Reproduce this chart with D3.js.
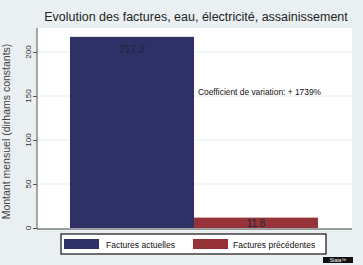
<!DOCTYPE html>
<html><head><meta charset="utf-8">
<script src="https://cdn.jsdelivr.net/npm/d3@7"></script>
<style>body{margin:0;background:#eaf0f1;}svg{display:block;font-family:"Liberation Sans",Arial,sans-serif;}</style>
</head><body>
<script>
const categories = ["Factures actuelles", "Factures précédentes"];
const values = [217.2, 11.8];
const labels = ["217.2", "11.8"];
const colors = ["#2e3066", "#963338"];
const yTicks = [0, 50, 100, 150, 200];
const title = "Evolution des factures, eau, électricité, assainissement";
const yTitle = "Montant mensuel (dirhams constants)";
const note = "Coefficient de variation: + 1739%";

const W = 363, H = 265;
const svg = d3.select("body").append("svg").attr("width", W).attr("height", H);
svg.append("rect").attr("width", W).attr("height", H).attr("fill", "#eaf0f1");

const plot = {l: 37, r: 352, t: 28, b: 229};
svg.append("rect").attr("x", plot.l).attr("y", plot.t).attr("width", plot.r - plot.l).attr("height", plot.b - plot.t).attr("fill", "#fff");

const y = d3.scaleLinear().domain([0, 200]).range([228, 52]);
const x = d3.scaleBand().domain(categories).range([70, 318]).padding(0);

// gridlines
svg.append("g").selectAll("line").data(yTicks.filter(d => d > 0)).join("line")
  .attr("x1", plot.l).attr("x2", plot.r).attr("y1", d => y(d)).attr("y2", d => y(d))
  .attr("stroke", "#e8eef0").attr("stroke-width", 1);

// bars
svg.append("g").selectAll("rect").data(values).join("rect")
  .attr("x", (d, i) => x(categories[i]))
  .attr("width", x.bandwidth())
  .attr("y", d => y(d))
  .attr("height", d => y(0) - y(d))
  .attr("fill", (d, i) => colors[i]);

// bar labels (inside, near top)
svg.append("g").selectAll("text").data(values).join("text")
  .attr("x", (d, i) => x(categories[i]) + x.bandwidth() / 2)
  .attr("y", d => y(d) + Math.min(16, (y(0) - y(d)) / 2 + 4))
  .attr("text-anchor", "middle")
  .attr("font-size", 10)
  .attr("fill", "#1a2a3a")
  .text((d, i) => labels[i]);

// y axis
const yAxis = d3.axisLeft(y).tickValues(yTicks).tickSize(4).tickFormat("");
const ga = svg.append("g").attr("transform", `translate(${plot.l},0)`).call(yAxis);
ga.select(".domain").attr("stroke", "#555").attr("d", `M0,${plot.t}V${plot.b}`);
ga.selectAll(".tick line").attr("stroke", "#555");
svg.append("g").selectAll("text").data(yTicks).join("text")
  .attr("transform", d => `translate(${plot.l - 6},${y(d)}) rotate(-90)`)
  .attr("text-anchor", "middle")
  .attr("font-size", 8).attr("fill", "#333")
  .text(d => d3.format("d")(d));

// x axis base line
svg.append("line").attr("x1", plot.l).attr("x2", plot.r).attr("y1", plot.b).attr("y2", plot.b)
  .attr("stroke", "#444").attr("stroke-width", 1.2);

// y title
svg.append("text").attr("transform", `translate(10,${(plot.t + plot.b) / 2 + 3}) rotate(-90)`)
  .attr("text-anchor", "middle").attr("font-size", 10.5).attr("fill", "#444").text(yTitle);

// title
svg.append("text").attr("x", 196).attr("y", 21).attr("text-anchor", "middle")
  .attr("font-size", 12.5).attr("fill", "#222").text(title);

// note
svg.append("text").attr("x", 198).attr("y", 95).attr("font-size", 8.4).attr("fill", "#111").text(note);

// legend
const lg = svg.append("g");
lg.append("rect").attr("x", 61).attr("y", 234).attr("width", 265).attr("height", 20)
  .attr("fill", "#fff").attr("stroke", "#111").attr("stroke-width", 1.2);
const lx = [64, 193], tx = [106, 233];
categories.forEach((c, i) => {
  lg.append("rect").attr("x", lx[i]).attr("y", 239).attr("width", 35).attr("height", 10).attr("fill", colors[i]);
  lg.append("text").attr("x", tx[i]).attr("y", 248).attr("font-size", 8.5).attr("fill", "#111").text(c);
});

// small logo
svg.append("rect").attr("x", 323).attr("y", 257).attr("width", 30).attr("height", 6).attr("fill", "#111");
svg.append("text").attr("x", 338).attr("y", 262).attr("text-anchor", "middle").attr("font-size", 5).attr("fill", "#fff").text("Stata™");
</script>
</body></html>
